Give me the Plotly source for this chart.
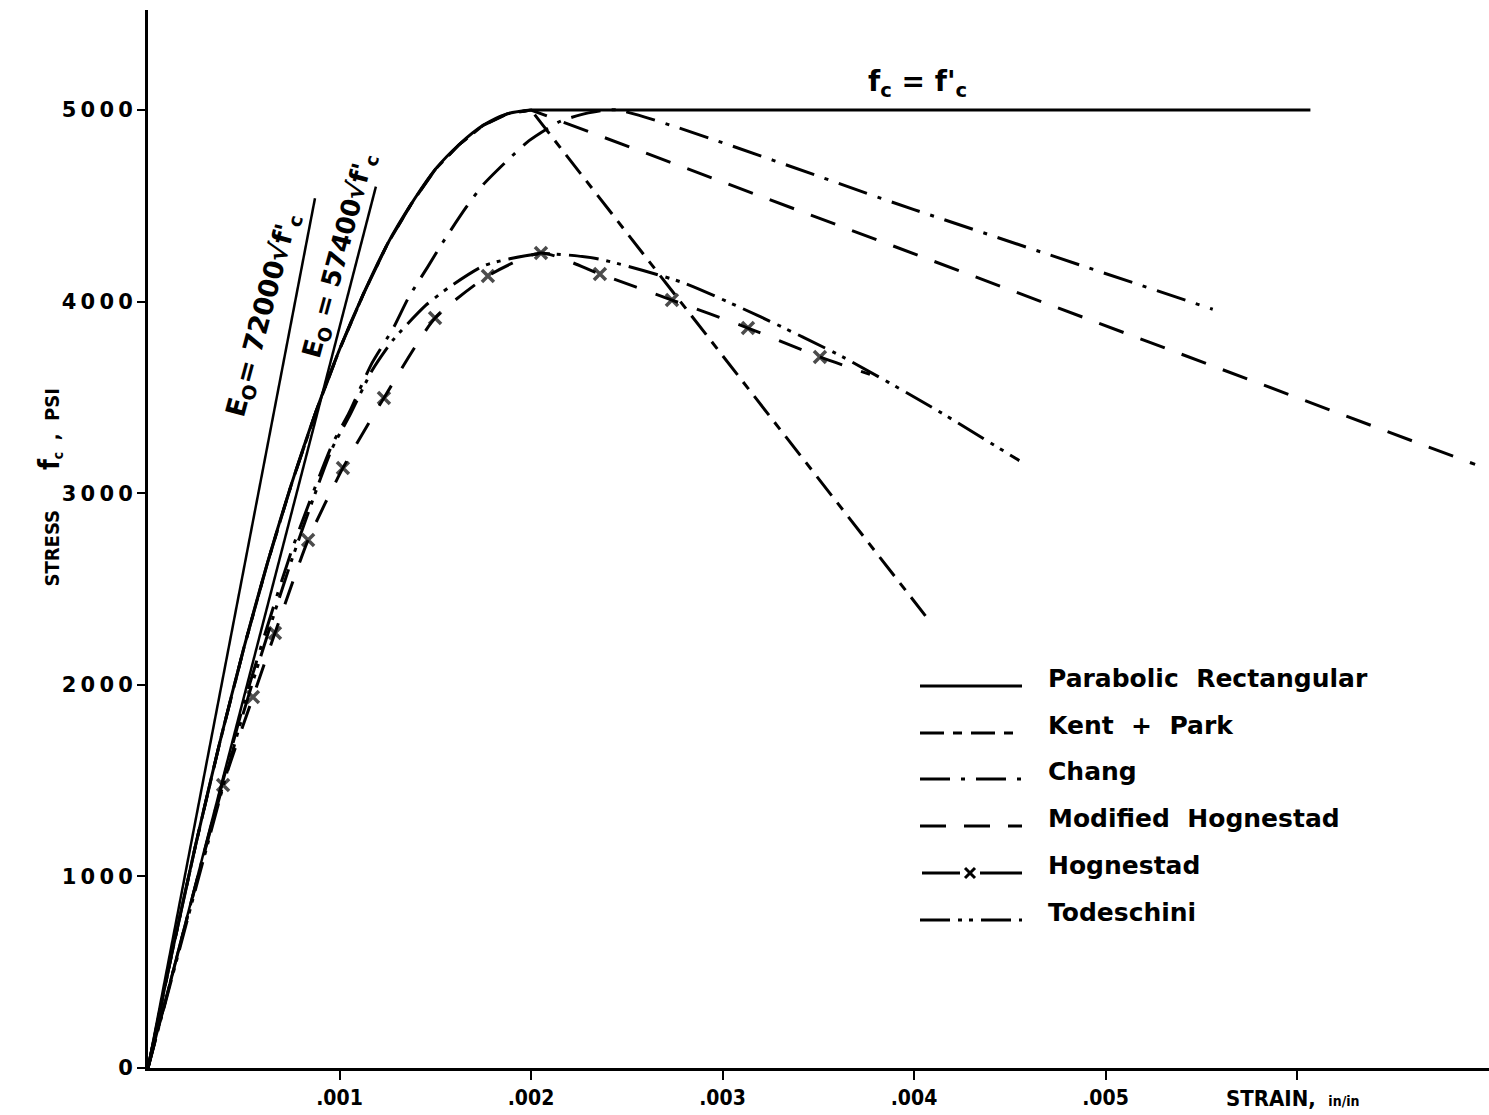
import plotly.graph_objects as go

# ---------------- data ----------------
# Parabolic rectangular (also the ascending branch of Kent+Park and Modified Hognestad)
rise_strain = [0, 0.000125, 0.00025, 0.000375, 0.0005, 0.000625, 0.00075, 0.000875,
               0.001, 0.001125, 0.00125, 0.001375, 0.0015, 0.001625, 0.00175, 0.001875, 0.002]
rise_stress = [0, 600, 1170, 1700, 2190, 2640, 3050, 3420,
               3750, 4040, 4300, 4510, 4690, 4820, 4920, 4980, 5000]
plateau_strain = [0.002, 0.00607]
plateau_stress = [5000, 5000]

kp_desc_strain = [0.00406]
kp_desc_stress = [2360]

mh_desc_strain = [0.00693]
mh_desc_stress = [3150]

chang_strain = [0, 0.00025, 0.0005, 0.00075, 0.00096, 0.00105, 0.00117, 0.00128, 0.00136,
                0.00146, 0.00154, 0.00166, 0.00175, 0.00188, 0.00199, 0.00215, 0.0023,
                0.00245, 0.0040, 0.00556]
chang_stress = [0, 960, 1900, 2700, 3250, 3420, 3680, 3860, 4020,
                4180, 4310, 4490, 4610, 4740, 4840, 4940, 4985,
                5000, 4480, 3960]

hog_strain = [0, 0.000392, 0.000548, 0.000663, 0.000836, 0.001018, 0.001232, 0.001499,
              0.001775, 0.002052, 0.00236, 0.002736, 0.003133, 0.003509, 0.00377]
hog_stress = [0, 1477, 1936, 2270, 2756, 3132, 3497, 3914,
              4134, 4254, 4144, 4008, 3862, 3711, 3620]
hog_marked = [False] + [True] * 13 + [False]

tod_strain = [0, 0.00025, 0.0005, 0.00075, 0.00096, 0.00105, 0.00117, 0.00128, 0.00145,
              0.00158, 0.00176, 0.00205, 0.00234, 0.00279, 0.0032, 0.00363, 0.0041, 0.00455]
tod_stress = [0, 940, 1860, 2650, 3230, 3400, 3640, 3800, 3980,
              4080, 4190, 4250, 4225, 4100, 3920, 3710, 3445, 3170]

e72_strain = [0, 0.000872]
e72_stress = [0, 4540]
e574_strain = [0, 0.00119]
e574_stress = [0, 4600]

y_ticks = [0, 1000, 2000, 3000, 4000, 5000]
y_ticklabels = ["0", "1\u20090\u20090\u20090", "2\u20090\u20090\u20090", "3\u20090\u20090\u20090",
                "4\u20090\u20090\u20090", "5\u20090\u20090\u20090"]
x_ticks = [0.001, 0.002, 0.003, 0.004, 0.005, 0.006]
x_ticklabels = [".001", ".002", ".003", ".004", ".005", ""]

legend_names = ["Parabolic  Rectangular", "Kent  +  Park", "Chang",
                "Modified  Hognestad", "Hognestad", "Todeschini"]

# ---------------- styles ----------------
BLACK = "#000000"
W = 3
dash_kp = "24px,9px,9px,9px"
dash_chang = "30px,11px,4px,11px"
dash_mh = "26px,18px"
dash_hog = "24px,20px"
dash_tod = "30px,8px,4px,7px,4px,8px"

fig = go.Figure()

fig.add_trace(go.Scatter(x=e72_strain, y=e72_stress, mode="lines",
                         line=dict(color=BLACK, width=2.5), hoverinfo="skip"))
fig.add_trace(go.Scatter(x=e574_strain, y=e574_stress, mode="lines",
                         line=dict(color=BLACK, width=2.5), hoverinfo="skip"))
fig.add_trace(go.Scatter(x=rise_strain + kp_desc_strain, y=rise_stress + kp_desc_stress,
                         mode="lines", line=dict(color=BLACK, width=W, dash=dash_kp),
                         name=legend_names[1]))
fig.add_trace(go.Scatter(x=rise_strain + mh_desc_strain, y=rise_stress + mh_desc_stress,
                         mode="lines", line=dict(color=BLACK, width=W, dash=dash_mh),
                         name=legend_names[3]))
fig.add_trace(go.Scatter(x=rise_strain, y=rise_stress,
                         mode="lines", line=dict(color=BLACK, width=W, shape="spline", smoothing=0.8),
                         name=legend_names[0]))
fig.add_trace(go.Scatter(x=plateau_strain, y=plateau_stress,
                         mode="lines", line=dict(color=BLACK, width=W),
                         name=legend_names[0], hoverinfo="skip"))
fig.add_trace(go.Scatter(x=chang_strain, y=chang_stress, mode="lines",
                         line=dict(color=BLACK, width=W, dash=dash_chang, shape="spline",
                                   smoothing=0.6),
                         name=legend_names[2]))
fig.add_trace(go.Scatter(x=hog_strain, y=hog_stress, mode="lines+markers",
                         line=dict(color=BLACK, width=W, dash=dash_hog, shape="spline",
                                   smoothing=0.6),
                         marker=dict(symbol="x-thin-open", size=[12 if m else 0 for m in hog_marked],
                                     line=dict(color=BLACK, width=3.5), color=BLACK),
                         name=legend_names[4]))
fig.add_trace(go.Scatter(x=tod_strain, y=tod_stress, mode="lines",
                         line=dict(color=BLACK, width=W, dash=dash_tod, shape="spline",
                                   smoothing=0.6),
                         name=legend_names[5]))

# ---------------- layout ----------------
L, T, R, B = 148, 10, 0, 47
FW, FH = 1489, 1115
PW, PH = FW - L - R, FH - T - B


def px(xp):
    return (xp - L) / PW


def py(yp):
    return (FH - B - yp) / PH


FONT = "DejaVu Sans"
NARROW = "Liberation Sans Narrow, DejaVu Sans Condensed"
shapes = []
annotations = []

legend_rows = [686, 733, 779, 826, 873, 920]
legend_dashes = ["solid", dash_kp, dash_chang, dash_mh, "solid", dash_tod]
for name, yr, dsh in zip(legend_names, legend_rows, legend_dashes):
    if name == "Hognestad":
        shapes.append(dict(type="line", xref="paper", yref="paper", x0=px(922), x1=px(960),
                           y0=py(yr), y1=py(yr), line=dict(color=BLACK, width=3)))
        shapes.append(dict(type="line", xref="paper", yref="paper", x0=px(980), x1=px(1022),
                           y0=py(yr), y1=py(yr), line=dict(color=BLACK, width=3)))
        shapes.append(dict(type="line", xref="paper", yref="paper", x0=px(965), x1=px(975),
                           y0=py(yr - 5), y1=py(yr + 5), line=dict(color=BLACK, width=3)))
        shapes.append(dict(type="line", xref="paper", yref="paper", x0=px(965), x1=px(975),
                           y0=py(yr + 5), y1=py(yr - 5), line=dict(color=BLACK, width=3)))
    else:
        shapes.append(dict(type="line", xref="paper", yref="paper", x0=px(920), x1=px(1022),
                           y0=py(yr), y1=py(yr), line=dict(color=BLACK, width=3, dash=dsh)))
    annotations.append(dict(xref="paper", yref="paper", x=px(1046), y=py(yr - 8), xanchor="left",
                            yanchor="middle", text=name, showarrow=False,
                            font=dict(family=FONT, size=25, color=BLACK, weight="bold")))

# curve labels
annotations.append(dict(x=0.00402, y=5140, xref="x", yref="y", showarrow=False,
                        text="f<sub>c</sub> = f'<sub>c</sub>",
                        font=dict(family=FONT, size=28, color=BLACK, weight="bold")))
annotations.append(dict(x=0.000600, y=3930, xref="x", yref="y", showarrow=False, textangle=-75,
                        text="E<sub>O</sub>= 72000√f'<sub>c</sub>",
                        font=dict(family=FONT, size=27, color=BLACK, weight="bold")))
annotations.append(dict(x=0.00100, y=4240, xref="x", yref="y", showarrow=False, textangle=-75,
                        text="E<sub>O</sub> = 57400√f'<sub>c</sub>",
                        font=dict(family=FONT, size=26, color=BLACK, weight="bold")))

# axis titles
annotations.append(dict(xref="paper", yref="paper", x=px(30), y=py(488), showarrow=False,
                        textangle=-90,
                        text="<b>STRESS</b>       <span style='font-size:28px'><b>f</b></span>"
                             "<sub><b>c</b></sub>  <b>,  PSI</b>",
                        font=dict(family=NARROW, size=20, color=BLACK)))
annotations.append(dict(xref="paper", yref="paper", x=px(1224), y=py(1098), xanchor="left",
                        yanchor="middle", showarrow=False,
                        text="<b>STRAIN,</b>  <span style='font-size:14px'><b>in/in</b></span>",
                        font=dict(family=NARROW, size=22, color=BLACK)))

fig.update_layout(
    width=FW, height=FH,
    margin=dict(l=L, r=R, t=T, b=B),
    paper_bgcolor="white", plot_bgcolor="white",
    showlegend=False,
    shapes=shapes,
    annotations=annotations,
    xaxis=dict(range=[0, PW / 191.5 / 1000], showgrid=False, zeroline=False,
               showline=True, linecolor=BLACK, linewidth=3,
               tickmode="array", tickvals=x_ticks, ticktext=x_ticklabels,
               ticks="outside", ticklen=9, tickwidth=2, tickcolor=BLACK,
               tickfont=dict(family=NARROW, size=21, color=BLACK, weight="bold")),
    yaxis=dict(range=[0, PH / 191.6 * 1000], showgrid=False, zeroline=False,
               showline=True, linecolor=BLACK, linewidth=3,
               tickmode="array", tickvals=y_ticks, ticktext=y_ticklabels,
               ticks="outside", ticklen=8, tickwidth=2, tickcolor=BLACK,
               tickfont=dict(family=FONT, size=21, color=BLACK, weight="bold")),
)

fig.write_html("out.html")
